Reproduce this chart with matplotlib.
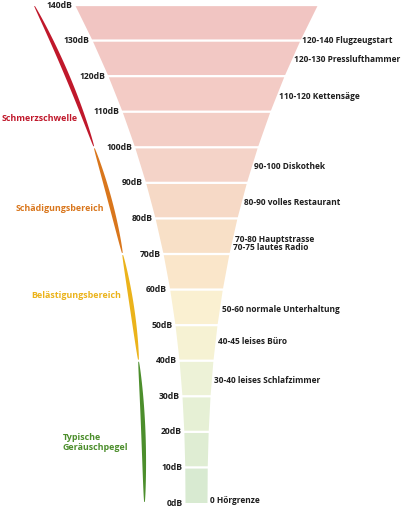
import numpy as np
import matplotlib
matplotlib.use("Agg")
import matplotlib.pyplot as plt
from matplotlib.patches import Polygon

# ---------------- data ----------------
levels_db = [0, 10, 20, 30, 40, 50, 60, 70, 80, 90, 100, 110, 120, 130, 140]
level_labels = [f"{v}dB" for v in levels_db]

band_colors = ["#D8EAD1", "#DFEDD3", "#E6F0D5", "#EDF2D7", "#F6F2D3",
               "#FAF0D1", "#FAE6CA", "#F8E0C7", "#F6D9C6", "#F4D3C8",
               "#F3CEC6", "#F3CBC5", "#F2C8C4", "#F1C5C2"]

example_texts = ["120-140 Flugzeugstart", "120-130 Presslufthammer",
                 "110-120 Kettensäge", "90-100 Diskothek",
                 "80-90 volles Restaurant", "70-80 Hauptstrasse",
                 "70-75 lautes Radio", "50-60 normale Unterhaltung",
                 "40-45 leises Büro", "30-40 leises Schlafzimmer",
                 "0 Hörgrenze"]
example_db = [130.0, 124.8, 114.4, 94.5, 84.6, 74.2, 71.7, 54.5, 45.5, 34.3, 0.6]

zone_names = ["Schmerzschwelle", "Schädigungsbereich", "Belästigungsbereich",
              "Typische\nGeräuschpegel"]
zone_low = [100, 70, 40, 0]
zone_high = [140, 100, 70, 40]
zone_colors = ["#C0182B", "#D9761C", "#EBB31B", "#4C8E2C"]
zone_label_db = [108.0, 82.9, 58.2, 17.1]
zone_label_x = [2, 16, 31, 63]

# ---------------- geometry helpers ----------------
CENTER = 196.5
MAXDB = 140.0


def half_width(db):
    db = np.asarray(db, dtype=float)
    return 11 + 110.5 * (db / MAXDB) ** 2.33


k = 498.0 / 140.0  # pixels per dB

fig = plt.figure(figsize=(4.02, 5.12), dpi=100)
ax = fig.add_axes([0, 0, 1, 1])
ax.set_xlim(0, 402)
ax.set_ylim((503 - 512) / k, 503 / k)
ax.axis("off")

FONT = "Open Sans"
gap = 0.32  # dB half-gap between bands

# funnel bands
for i in range(len(levels_db) - 1):
    lo = levels_db[i] + (gap if i > 0 else 0)
    hi = levels_db[i + 1] - gap
    wl, wh = half_width(lo), half_width(hi)
    poly = Polygon([(CENTER - wl, lo), (CENTER + wl, lo),
                    (CENTER + wh, hi), (CENTER - wh, hi)],
                   closed=True, facecolor=band_colors[i], edgecolor="none")
    ax.add_patch(poly)

# level labels at the left edge
for v, lab in zip(levels_db, level_labels):
    ax.text(CENTER - half_width(v) - 3, v, lab, ha="right", va="center",
            fontsize=6.2, fontweight="bold", family=FONT, color="#1e1e1e")

# example labels on the right
for txt, v in zip(example_texts, example_db):
    ax.text(CENTER + half_width(v) + 2, v, txt, ha="left", va="center",
            fontsize=6.0, fontweight="bold", family=FONT, color="#1e1e1e")

# leaf-shaped coloured strokes on the left
OFFSET = 41.0
wmax = [2.2, 2.0, 2.0, 2.0]
for lo, hi, col, wm in zip(zone_low, zone_high, zone_colors, wmax):
    d = np.linspace(lo + 0.3, hi - 0.3, 120)
    xc = CENTER - half_width(d) - OFFSET
    t = (d - lo) / (hi - lo)
    w = wm * np.sin(np.pi * t) ** 0.6 + 0.15
    pts = np.concatenate([np.column_stack([xc - w, d]),
                          np.column_stack([xc + w, d])[::-1]])
    ax.add_patch(Polygon(pts, closed=True, facecolor=col, edgecolor="none"))

# zone labels
for name, v, x, col in zip(zone_names, zone_label_db, zone_label_x, zone_colors):
    ax.text(x, v, name, ha="left", va="center", fontsize=6.4,
            fontweight="bold", family=FONT, color=col, linespacing=1.1)

fig.savefig("out.png", dpi=100)
